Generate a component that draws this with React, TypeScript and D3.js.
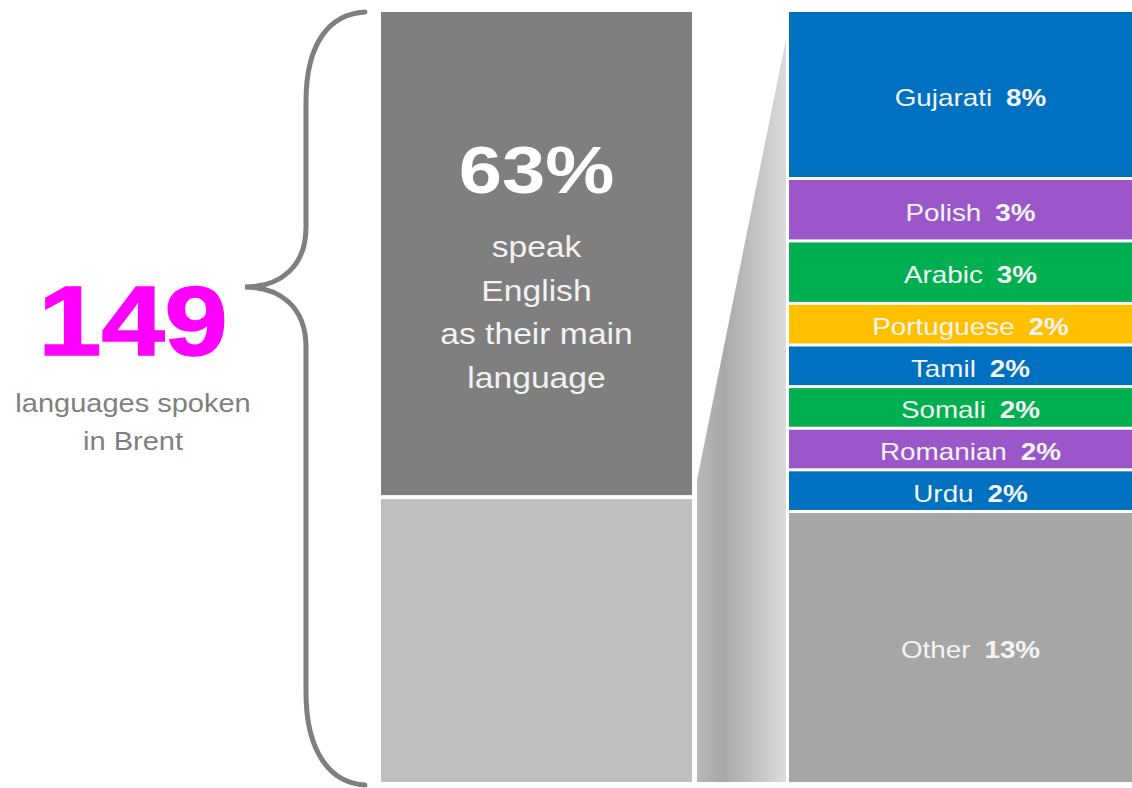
import React, { useEffect, useRef } from 'react';
import * as d3 from 'd3';

const languages = ['Gujarati', 'Polish', 'Arabic', 'Portuguese', 'Tamil', 'Somali', 'Romanian', 'Urdu', 'Other'];
const shares = [8, 3, 3, 2, 2, 2, 2, 2, 13];
const colours = ['#0070c0', '#9b57c9', '#00b050', '#ffc000', '#0070c0', '#00b050', '#9b57c9', '#0070c0', '#a6a6a6'];
const englishShare = 63;
const englishLines = ['speak', 'English', 'as their main', 'language'];
const languageCount = 149;
const countLines = ['languages spoken', 'in Brent'];

const W = 1132;
const H = 788;
const FONT = '"Liberation Sans", Arial, sans-serif';
const STRETCH = 1.16;

export default function App() {
  const ref = useRef<SVGSVGElement>(null);

  useEffect(() => {
    const svg = d3.select(ref.current);
    svg.selectAll('*').remove();

    const top = 12, bottom = 782;
    const leftX0 = 381, leftX1 = 692;
    const rightX0 = 789, rightX1 = 1132;

    // left bar: whole population 0..100
    const yL = d3.scaleLinear().domain([0, 100]).range([top, bottom]);
    // right bar: the non-English share 0..37
    const rest = d3.sum(shares);
    const yR = d3.scaleLinear().domain([0, rest]).range([top, bottom]);

    const defs = svg.append('defs');
    const grad = defs.append('linearGradient').attr('id', 'funnel')
      .attr('x1', '0%').attr('x2', '100%').attr('y1', '0%').attr('y2', '0%');
    grad.append('stop').attr('offset', '0%').attr('stop-color', '#b8b8b8');
    grad.append('stop').attr('offset', '30%').attr('stop-color', '#a8a8a8');
    grad.append('stop').attr('offset', '100%').attr('stop-color', '#dcdcdc');

    // funnel between the two bars
    const fx0 = leftX1 + 5, fx1 = rightX0 - 3;
    const edge = d3.scaleLinear().domain([leftX1, rightX0]).range([yL(englishShare), yR(0)]);
    const funnelPts: [number, number][] = [
      [fx0, edge(fx0) + 8], [fx1, edge(fx1) + 12], [fx1, yL(100)], [fx0, yL(100)],
    ];
    svg.append('path')
      .attr('d', d3.line()(funnelPts) + 'Z')
      .attr('fill', 'url(#funnel)');

    // left bar
    const leftParts = [
      { from: 0, to: englishShare, fill: '#7f7f7f' },
      { from: englishShare, to: 100, fill: '#bfbfbf' },
    ];
    svg.selectAll('.lbar')
      .data(leftParts)
      .join('rect')
      .attr('class', 'lbar')
      .attr('x', leftX0)
      .attr('y', d => yL(d.from) + (d.from > 0 ? 2 : 0))
      .attr('width', leftX1 - leftX0)
      .attr('height', d => yL(d.to) - yL(d.from) - (d.from > 0 ? 2 : 0) - (d.to < 100 ? 2 : 0))
      .attr('fill', d => d.fill);

    // right stacked bar
    const starts = d3.cumsum([0, ...shares]);
    const segs = languages.map((name, i) => ({
      name, share: shares[i], colour: colours[i], from: starts[i], to: starts[i] + shares[i],
    }));
    svg.selectAll('.rbar')
      .data(segs)
      .join('rect')
      .attr('class', 'rbar')
      .attr('x', rightX0)
      .attr('y', d => yR(d.from) + (d.from > 0 ? 1.5 : 0))
      .attr('width', rightX1 - rightX0)
      .attr('height', d => yR(d.to) - yR(d.from) - (d.from > 0 ? 1.5 : 0) - (d.to < rest ? 1.5 : 0))
      .attr('fill', d => d.colour);

    const labels = svg.selectAll('.rlabel')
      .data(segs)
      .join('text')
      .attr('class', 'rlabel')
      .attr('transform', d => `translate(${(rightX0 + rightX1) / 2 + 10},${(yR(d.from) + yR(d.to)) / 2 + 11}) scale(${STRETCH},1)`)
      .attr('text-anchor', 'middle')
      .attr('font-family', FONT)
      .attr('font-size', 24)
      .attr('fill', '#f4f4f4');
    labels.append('tspan').text(d => d.name);
    labels.append('tspan').attr('dx', '0.5em').attr('font-weight', 'bold').text(d => `${d.share}%`);

    // English text
    const cx = (leftX0 + leftX1) / 2;
    svg.append('text')
      .attr('transform', `translate(${cx},193) scale(${STRETCH},1)`)
      .attr('text-anchor', 'middle')
      .attr('font-family', FONT)
      .attr('font-weight', 'bold')
      .attr('font-size', 67)
      .attr('fill', '#ffffff')
      .text(`${englishShare}%`);
    svg.selectAll('.eline')
      .data(englishLines)
      .join('text')
      .attr('class', 'eline')
      .attr('transform', (d, i) => `translate(${cx},${257 + i * 43.5}) scale(${STRETCH},1)`)
      .attr('text-anchor', 'middle')
      .attr('font-family', FONT)
      .attr('font-size', 29)
      .attr('fill', '#f2f2f2')
      .text(d => d);

    // brace
    const braceTip = 287, bx = 306, tipX = 245, endX = 365;
    const brace = d3.path();
    brace.moveTo(endX, top);
    brace.bezierCurveTo(330, top + 2, bx, top + 30, bx, top + 90);
    brace.lineTo(bx, braceTip - 60);
    brace.bezierCurveTo(bx, braceTip - 20, 280, braceTip, tipX, braceTip);
    brace.bezierCurveTo(280, braceTip, bx, braceTip + 20, bx, braceTip + 60);
    brace.lineTo(bx, bottom - 90);
    brace.bezierCurveTo(bx, bottom - 30, 330, bottom + 1, endX, bottom + 3);
    svg.append('path')
      .attr('d', brace.toString())
      .attr('fill', 'none')
      .attr('stroke', '#7f7f7f')
      .attr('stroke-width', 5)
      .attr('stroke-linecap', 'round');

    // count
    svg.append('text')
      .attr('transform', `translate(133,355) scale(${STRETCH},1)`)
      .attr('text-anchor', 'middle')
      .attr('font-family', FONT)
      .attr('font-weight', 'bold')
      .attr('font-size', 98)
      .attr('fill', '#ff00ff')
      .attr('stroke', '#ff00ff')
      .attr('stroke-width', 1.5)
      .text(languageCount);
    svg.selectAll('.cline')
      .data(countLines)
      .join('text')
      .attr('class', 'cline')
      .attr('transform', (d, i) => `translate(133,${412 + i * 38}) scale(${STRETCH},1)`)
      .attr('text-anchor', 'middle')
      .attr('font-family', FONT)
      .attr('font-size', 25)
      .attr('fill', '#7f7f7f')
      .text(d => d);
  }, []);

  return (
    <div style={{ position: 'absolute', left: 0, top: 0 }}>
      <svg ref={ref} width={W} height={H} style={{ display: 'block', background: '#fff' }} />
    </div>
  );
}
